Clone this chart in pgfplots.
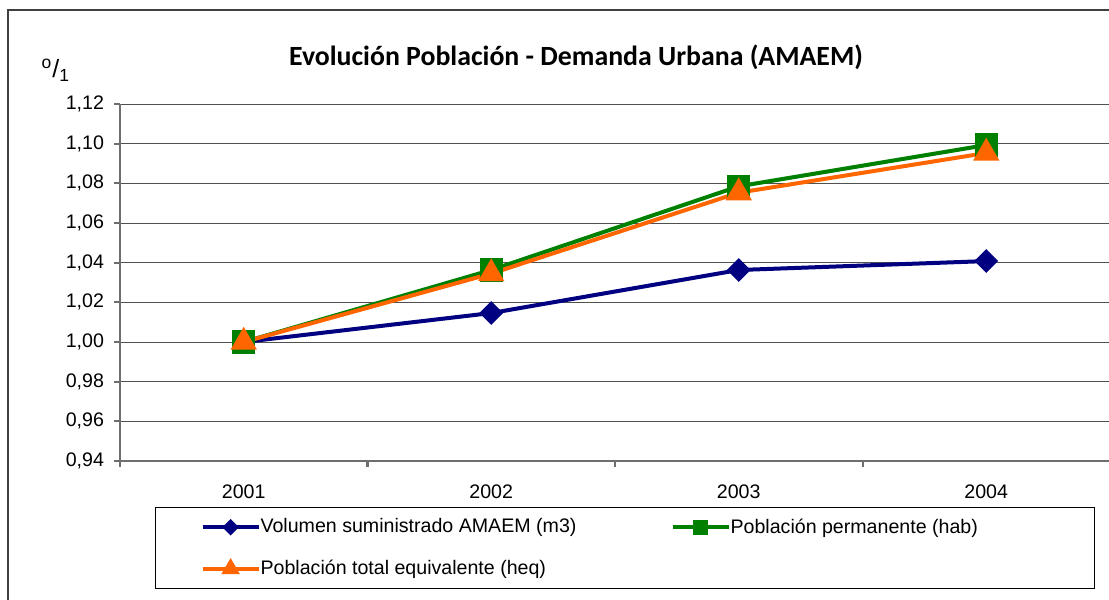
\documentclass[border=0pt]{standalone}
\usepackage{pgfplots}
\pgfplotsset{compat=1.18}
\usepackage{fontspec}
\setmainfont{Liberation Sans}
\newfontfamily\titlefont{Carlito}

\definecolor{serblue}{RGB}{0,0,128}
\definecolor{sergreen}{RGB}{0,128,0}
\definecolor{serorange}{RGB}{255,102,0}
\definecolor{gridgray}{RGB}{80,80,80}
\definecolor{axgray}{RGB}{110,110,110}

\begin{document}
\begin{tikzpicture}
\useasboundingbox (-60pt,-69.5pt) rectangle (494.5pt,230.5pt);
\clip (-60pt,-69.5pt) rectangle (494.5pt,230.5pt);
% outer chart frame (only left and top edges fall inside the picture)
\draw[black!75, line width=0.6pt] (-56pt,-90pt) -- (-56pt,225.5pt) -- (520pt,225.5pt);
\begin{axis}[
    at={(0pt,0pt)}, anchor=south west,
    scale only axis,
    width=495pt, height=178.5pt,
    xmin=0.5, xmax=4.5,
    ymin=0.94, ymax=1.12,
    axis x line*=bottom, axis y line*=left,
    axis line style={axgray, line width=1pt},
    xtick={1,2,3,4},
    xticklabels={2001,2002,2003,2004},
    major x tick style={draw=none},
    minor xtick={0.5,1.5,2.5,3.5,4.5},
    minor x tick style={axgray, line width=1pt},
    minor tick length=3pt,
    ytick={0.94,0.96,...,1.13},
    y tick style={axgray, line width=1pt},
    major tick length=3pt,
    tick align=outside,
    ymajorgrids,
    grid style={gridgray, line width=0.5pt},
    y tick label style={/pgf/number format/fixed, /pgf/number format/fixed zerofill,
        /pgf/number format/precision=2, /pgf/number format/use comma},
    /pgf/number format/assume math mode=true,
    ticklabel style={font=\fontsize{9.8}{11.8}\selectfont},
    xticklabel style={yshift=-5.5pt},
    yticklabel style={xshift=-1.5pt},
    clip=false,
    legend columns=2,
    legend cell align=left,
    legend style={
        at={(0.03535,-0.12885)}, anchor=north west,
        draw=black, line width=0.6pt,
        inner xsep=22.5pt, inner ysep=5.5pt,
        font=\fontsize{9.8}{11.8}\selectfont,
        nodes={inner sep=0pt},
        row sep=12pt,
    },
    legend image code/.code={
        \draw[mark repeat=2, mark phase=2, #1, every mark/.append style={scale=0.6}]
            plot coordinates {(0pt,0pt) (14pt,0pt) (28pt,0pt)};
    },
]
\addplot[serblue, line width=2pt, mark=square*, mark size=3.2pt,
    mark options={rotate=45, solid}] coordinates {
    (1,1.0000) (2,1.0146) (3,1.0363) (4,1.0408)
};
\addlegendentry{\makebox[205pt][l]{Volumen suministrado AMAEM (m3)}}
\addplot[sergreen, line width=2pt, mark=square*, mark size=4.8pt,
    mark options={solid}] coordinates {
    (1,1.0000) (2,1.0363) (3,1.0785) (4,1.0993)
};
\addlegendentry{\makebox[159.5pt][l]{Población permanente (hab)}}
\addplot[serorange, line width=2pt, mark=triangle*, mark size=5.6pt,
    mark options={solid}] coordinates {
    (1,1.0000) (2,1.0345) (3,1.0753) (4,1.0953)
};
\addlegendentry{\makebox[205pt][l]{Población total equivalente (heq)}}
\node[font=\titlefont\bfseries\fontsize{13.9}{16}\selectfont]
    at (rel axis cs:0.4606,1.1317) {Evolución Población - Demanda Urbana (AMAEM)};
\node[font=\fontsize{12.5}{14}\selectfont]
    at (rel axis cs:-0.0647,1.0950) {\textsuperscript{o}/\textsubscript{1}};
\end{axis}
\end{tikzpicture}
\end{document}
